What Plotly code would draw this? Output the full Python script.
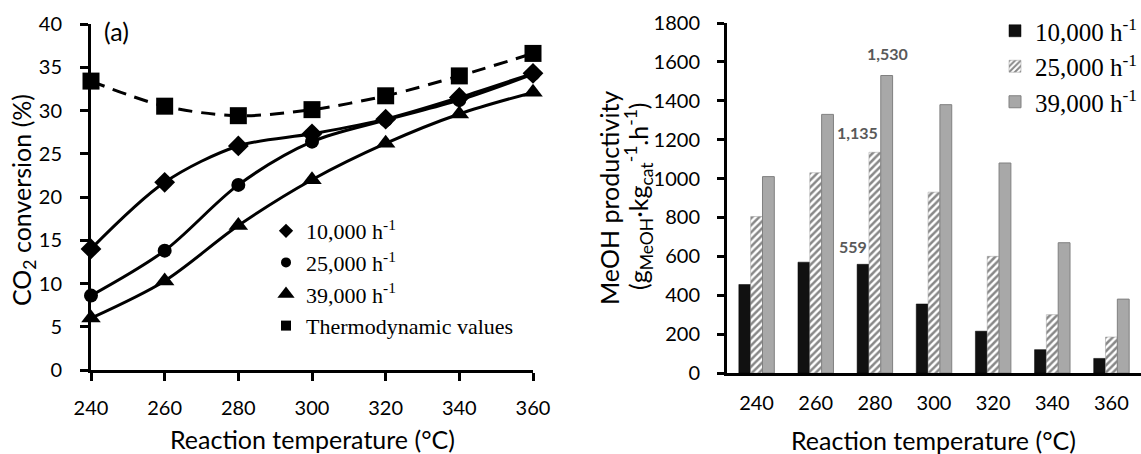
import plotly.graph_objects as go

W, H = 1141, 454

# ---- panel (a): CO2 conversion vs temperature ----
temps = [240, 260, 280, 300, 320, 340, 360]
conv_10k = [14.0, 21.7, 25.9, 27.3, 29.0, 31.5, 34.3]
conv_25k = [8.6, 13.8, 21.4, 26.4, 28.9, 31.2, 34.2]
conv_39k = [6.0, 10.3, 16.7, 22.0, 26.2, 29.6, 32.1]
conv_thermo = [33.4, 30.5, 29.4, 30.1, 31.7, 34.0, 36.6]

# ---- panel (b): MeOH productivity vs temperature ----
temp_labels = ["240", "260", "280", "300", "320", "340", "360"]
prod_10k = [455, 570, 559, 355, 215, 120, 75]
prod_25k = [805, 1030, 1135, 930, 600, 300, 185]
prod_39k = [1010, 1330, 1530, 1380, 1080, 670, 380]

series_names = ["10,000 h<sup>-1</sup>", "25,000 h<sup>-1</sup>", "39,000 h<sup>-1</sup>"]

SANS = "Lato"
SERIF = "Liberation Serif"


def px_x(p):
    return p / W


def px_y(p):
    return 1 - p / H


fig = go.Figure()

# lines with markers (left panel)
line_series = [
    (conv_10k, "diamond", 16, "solid"),
    (conv_25k, "circle", 14, "solid"),
    (conv_39k, "triangle-up", 17, "solid"),
    (conv_thermo, "square", 17, "14px,9px"),
]
for vals, sym, size, dash in line_series:
    fig.add_trace(go.Scatter(
        x=temps, y=vals, mode="lines+markers",
        line=dict(color="black", width=3, shape="spline", smoothing=0.9, dash=dash),
        marker=dict(symbol=sym, size=size, color="black"),
        cliponaxis=False, showlegend=False, xaxis="x", yaxis="y",
    ))

# marker-only legend entries for the left panel
legend_entries = [
    ("diamond", 11, series_names[0]),
    ("circle", 10, series_names[1]),
    ("triangle-up", 15, series_names[2]),
    ("square", 10, "Thermodynamic values"),
]
for sym, size, name in legend_entries:
    fig.add_trace(go.Scatter(
        x=[None], y=[None], mode="markers", name=name,
        marker=dict(symbol=sym, size=size, color="black"),
        legend="legend", xaxis="x", yaxis="y",
    ))

# grouped bars (right panel)
fig.add_trace(go.Bar(
    x=temp_labels, y=prod_10k, name=series_names[0],
    marker=dict(color="#111111", line=dict(color="#000000", width=0.5)),
    xaxis="x2", yaxis="y2", legend="legend2",
))
fig.add_trace(go.Bar(
    x=temp_labels, y=prod_25k, name=series_names[1],
    marker=dict(color="white", line=dict(color="#9a9a9a", width=0.5),
                pattern=dict(shape="/", fgcolor="#111111", bgcolor="white",
                             size=5, solidity=0.5)),
    xaxis="x2", yaxis="y2", legend="legend2",
))
fig.add_trace(go.Bar(
    x=temp_labels, y=prod_39k, name=series_names[2],
    marker=dict(color="#a8a8a8", line=dict(color="#808080", width=1)),
    xaxis="x2", yaxis="y2", legend="legend2",
))

# value labels at 280 °C (x given as category index)
i280 = temp_labels.index("280")
value_labels = [
    (prod_10k[i280], -22, 18),
    (prod_25k[i280], -17, 20),
    (prod_39k[i280], 13, 22),
]
annotations = []
for v, dx, dy in value_labels:
    annotations.append(dict(
        x=i280, y=v, xref="x2", yref="y2", text=f"{v:,}", showarrow=False,
        xanchor="center", yanchor="middle", xshift=dx, yshift=dy,
        font=dict(family=SANS, size=16, color="#595959", weight="bold"),
    ))

title_font = dict(family=SANS, size=25, color="black")


def paper_text(text, x, y, angle=0, font=title_font, xanchor="center"):
    return dict(text=text, x=px_x(x), y=px_y(y), xref="paper", yref="paper",
                xanchor=xanchor, yanchor="middle", showarrow=False,
                textangle=angle, font=font)


annotations += [
    paper_text("(a)", 102, 31, font=dict(family=SANS, size=25, color="black"),
               xanchor="left"),
    paper_text("Reaction temperature (°C)", 312, 439),
    paper_text("Reaction temperature (°C)", 933, 440),
    paper_text("CO<sub>2</sub> conversion (%)", 23, 200, angle=-90),
    paper_text("MeOH productivity", 609, 198, angle=-90),
    paper_text("(g<sub>MeOH</sub>·kg<sub>cat</sub><sup>-1</sup>.h<sup>-1</sup>)",
               638, 196, angle=-90),
]

axis_common = dict(
    showline=True, linewidth=3, linecolor="black", showgrid=False, zeroline=False,
    automargin=False, tickfont=dict(family=SANS, size=20, color="black"),
)

fig.update_layout(
    width=W, height=H,
    margin=dict(l=0, r=0, t=0, b=0, autoexpand=False),
    paper_bgcolor="white", plot_bgcolor="white",
    barmode="group", bargap=0.4, bargroupgap=0,
    xaxis=dict(domain=[px_x(91), px_x(533)], range=[240, 360], tickvals=temps,
               ticks="outside", ticklen=8, tickwidth=2.5, tickcolor="black",
               ticklabelstandoff=10, anchor="y", **axis_common),
    yaxis=dict(domain=[px_y(370), px_y(24)], range=[0, 40], dtick=5,
               ticks="outside", ticklen=8, tickwidth=2.5, tickcolor="black",
               ticklabelstandoff=14, anchor="x", **axis_common),
    xaxis2=dict(domain=[px_x(727), 1.0], type="category", categoryorder="array",
                categoryarray=temp_labels, range=[-0.5, len(temp_labels) - 0.5],
                ticks="", ticklabelstandoff=10, anchor="y2", **axis_common),
    yaxis2=dict(domain=[px_y(373), px_y(23)], range=[0, 1800], dtick=200,
                ticks="outside", ticklen=7, tickwidth=2.5, tickcolor="black",
                ticklabelstandoff=13, anchor="x2", **axis_common),
    legend=dict(x=px_x(266), y=px_y(210), xanchor="left", yanchor="top",
                bgcolor="rgba(0,0,0,0)", font=dict(family=SERIF, size=22, color="black"),
                itemwidth=30, tracegroupgap=0),
    legend2=dict(x=px_x(995), y=px_y(8), xanchor="left", yanchor="top",
                 bgcolor="rgba(0,0,0,0)", font=dict(family=SERIF, size=25, color="black"),
                 itemwidth=30),
    annotations=annotations,
)

fig.write_html("out.html")
